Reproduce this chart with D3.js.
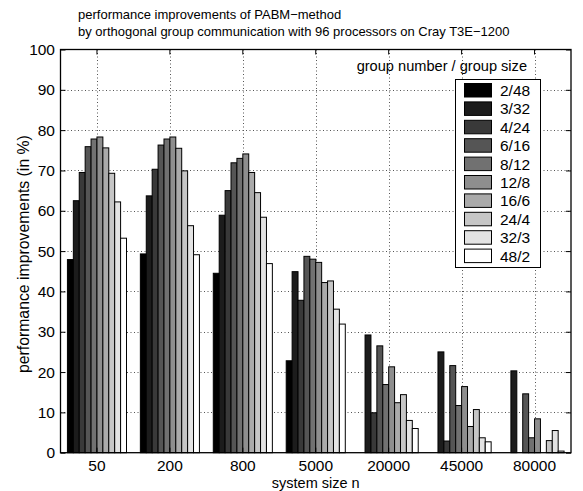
<!DOCTYPE html>
<html>
<head>
<meta charset="utf-8">
<script src="https://cdn.jsdelivr.net/npm/d3@7"></script>
<style>
  html, body { margin: 0; padding: 0; background: #fff; }
  svg { display: block; font-family: "Liberation Sans", Arial, Helvetica, sans-serif; }
</style>
</head>
<body>
<svg id="chart" width="583" height="491"></svg>
<script>
// System sizes on the x axis
const categories = ["50", "200", "800", "5000", "20000", "45000", "80000"];

// Group configurations (group number / group size)
const seriesNames = ["2/48", "3/32", "4/24", "6/16", "8/12", "12/8", "16/6", "24/4", "32/3", "48/2"];

// Performance improvements in % per configuration, one entry per system size
const s2_48  = [47.9, 49.3, 44.5, 22.8, 0,    0,    0];
const s3_32  = [62.5, 63.7, 58.9, 44.9, 29.2, 25.0, 20.3];
const s4_24  = [69.5, 70.3, 65.0, 37.8, 9.9,  2.9,  0];
const s6_16  = [75.9, 76.3, 71.9, 48.7, 26.5, 21.6, 14.6];
const s8_12  = [77.8, 77.8, 73.0, 48.0, 16.9, 11.7, 3.7];
const s12_8  = [78.3, 78.3, 74.1, 47.2, 21.3, 16.4, 8.4];
const s16_6  = [75.6, 75.5, 69.5, 42.2, 12.4, 6.5,  0];
const s24_4  = [69.3, 69.9, 64.5, 42.6, 14.4, 10.7, 3.0];
const s32_3  = [62.2, 56.3, 58.4, 35.6, 8.0,  3.7,  5.5];
const s48_2  = [53.2, 49.1, 46.9, 31.9, 6.0,  2.7,  0.4];
const seriesValues = [s2_48, s3_32, s4_24, s6_16, s8_12, s12_8, s16_6, s24_4, s32_3, s48_2];

// Axis ticks
const yTicks = [0, 10, 20, 30, 40, 50, 60, 70, 80, 90, 100];

const titleLines = [
  "performance improvements of PABM\u2212method",
  "by orthogonal group communication with 96 processors on Cray T3E\u22121200"
];
const legendTitle = "group number / group size";

const svg = d3.select("#chart");
const plot = { left: 60.5, right: 571, top: 49.5, bottom: 452.7 };
const fontSize = 15.5;

const x0 = d3.scaleBand().domain(categories).range([plot.left, plot.right]).padding(0);
const groupWidth = x0.bandwidth() * 0.81;
const x1 = d3.scaleBand().domain(seriesNames).range([-groupWidth / 2, groupWidth / 2]).padding(0);
const y = d3.scaleLinear().domain([0, 100]).range([plot.bottom, plot.top]);

// gray colormap: black -> white
const color = d3.scaleOrdinal()
  .domain(seriesNames)
  .range(seriesNames.map((d, i) => d3.interpolateRgb("#000", "#fff")(i / (seriesNames.length - 1))));

// Titles
svg.append("g").selectAll("text").data(titleLines).join("text")
  .attr("x", 78).attr("y", (d, i) => 19 + i * 17)
  .attr("font-size", 13).attr("fill", "#000")
  .text(d => d);

// Dotted grid
const grid = svg.append("g").attr("stroke", "#555").attr("stroke-width", 1)
  .attr("stroke-dasharray", "1,2.5");
grid.selectAll("line.gy").data(yTicks.filter(t => t > 0 && t < 100)).join("line")
  .attr("x1", plot.left).attr("x2", plot.right)
  .attr("y1", d => Math.round(y(d)) + 0.5).attr("y2", d => Math.round(y(d)) + 0.5);
grid.selectAll("line.gx").data(categories).join("line")
  .attr("y1", plot.top).attr("y2", plot.bottom)
  .attr("x1", d => Math.round(x0(d) + x0.bandwidth() / 2) + 0.5)
  .attr("x2", d => Math.round(x0(d) + x0.bandwidth() / 2) + 0.5);

// Bars
const groups = svg.append("g").selectAll("g").data(categories).join("g")
  .attr("transform", d => `translate(${x0(d) + x0.bandwidth() / 2},0)`);
groups.selectAll("rect").data((c, ci) => seriesNames.map((s, si) => ({ s, v: seriesValues[si][ci] })))
  .join("rect")
  .attr("x", d => x1(d.s))
  .attr("width", x1.bandwidth())
  .attr("y", d => y(d.v))
  .attr("height", d => y(0) - y(d.v))
  .attr("fill", d => color(d.s))
  .attr("stroke", "#000").attr("stroke-width", 1);

// Axes (box with inward ticks)
const yAxisL = d3.axisLeft(y).tickValues(yTicks).tickSize(-5).tickPadding(5.5).tickSizeOuter(0);
const yAxisR = d3.axisRight(y).tickValues(yTicks).tickSize(-5).tickFormat("").tickSizeOuter(0);
const xAxisB = d3.axisBottom(x0).tickSize(-5).tickPadding(7).tickSizeOuter(0);
const xAxisT = d3.axisTop(x0).tickSize(-5).tickFormat("").tickSizeOuter(0);

function styleAxis(g) {
  g.select(".domain").remove();
  g.selectAll(".tick line").attr("stroke", "#000");
  g.selectAll(".tick text").attr("font-size", fontSize).attr("fill", "#000")
    .attr("font-family", "Liberation Sans, Arial, sans-serif");
}
svg.append("g").attr("transform", `translate(${plot.left},0)`).call(yAxisL).call(styleAxis);
svg.append("g").attr("transform", `translate(${plot.right},0)`).call(yAxisR).call(styleAxis);
svg.append("g").attr("transform", `translate(0,${plot.bottom})`).call(xAxisB).call(styleAxis);
svg.append("g").attr("transform", `translate(0,${plot.top})`).call(xAxisT).call(styleAxis);

svg.append("rect")
  .attr("x", plot.left).attr("y", plot.top)
  .attr("width", plot.right - plot.left).attr("height", plot.bottom - plot.top)
  .attr("fill", "none").attr("stroke", "#000").attr("stroke-width", 1.3);

// Axis labels
svg.append("text")
  .attr("x", (plot.left + plot.right) / 2).attr("y", 488)
  .attr("text-anchor", "middle").attr("font-size", 14.5).attr("fill", "#000")
  .text("system size n");
svg.append("text")
  .attr("transform", `translate(29,${(plot.top + plot.bottom) / 2 + 3}) rotate(-90)`)
  .attr("text-anchor", "middle").attr("font-size", 15.8).attr("fill", "#000")
  .text("performance improvements (in %)");

// Legend
svg.append("text")
  .attr("x", 527).attr("y", 71).attr("text-anchor", "end")
  .attr("font-size", 14.6).attr("fill", "#000")
  .text(legendTitle);

const legend = svg.append("g");
legend.append("rect")
  .attr("x", 455.5).attr("y", 79.5).attr("width", 85).attr("height", 188)
  .attr("fill", "#fff").attr("stroke", "#000").attr("stroke-width", 1);
const items = legend.selectAll("g.item").data(seriesNames).join("g")
  .attr("transform", (d, i) => `translate(0,${83.5 + i * 18.4})`);
items.append("rect")
  .attr("x", 464.5).attr("y", 0).attr("width", 27).attr("height", 13.5)
  .attr("fill", d => color(d)).attr("stroke", "#000").attr("stroke-width", 1);
items.append("text")
  .attr("x", 500).attr("y", 12.5).attr("font-size", fontSize).attr("fill", "#000")
  .text(d => d);
</script>
</body>
</html>
